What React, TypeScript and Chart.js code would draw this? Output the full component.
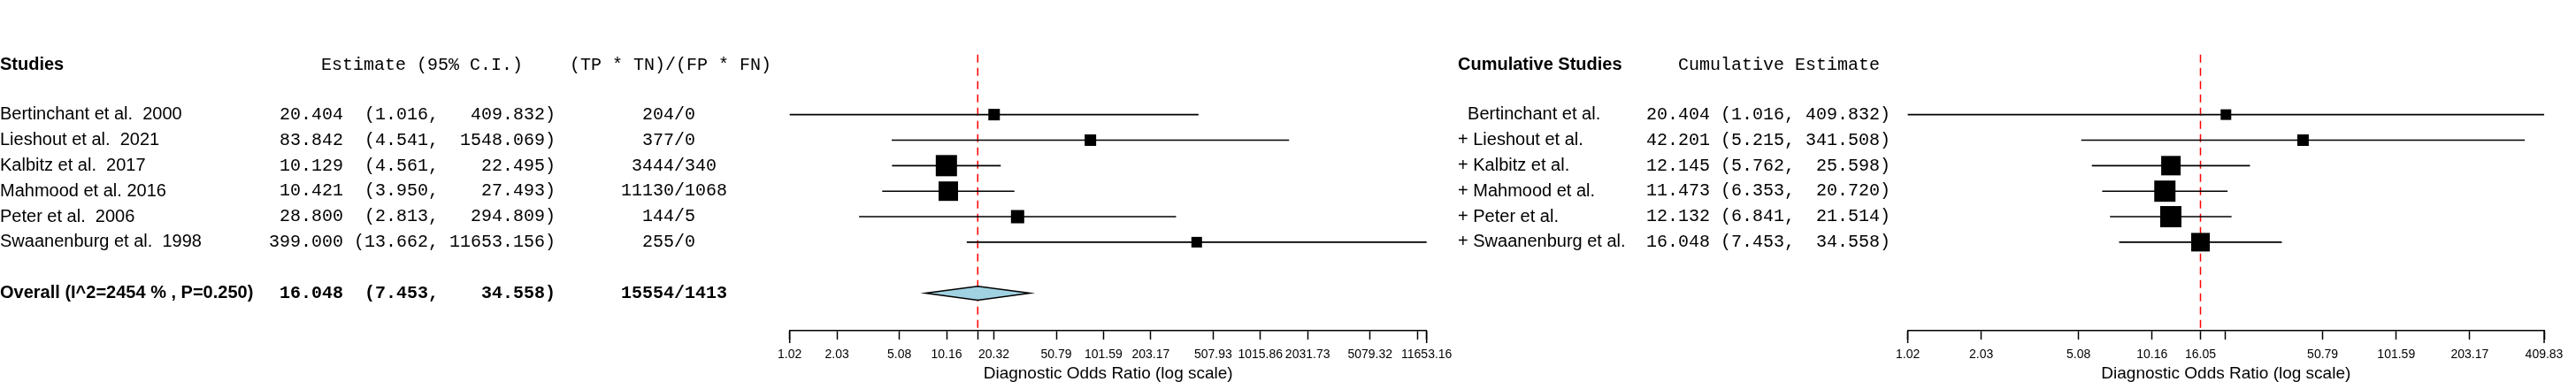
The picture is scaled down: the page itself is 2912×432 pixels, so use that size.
import React, { useEffect, useRef } from "react";
import { Chart, registerables } from "chart.js";

Chart.register(...registerables);

// ---------------- data ----------------
const studyNames = [
  "Bertinchant et al.  2000",
  "Lieshout et al.  2021",
  "Kalbitz et al.  2017",
  "Mahmood et al. 2016",
  "Peter et al.  2006",
  "Swaanenburg et al.  1998",
];
const estimates = [20.404, 83.842, 10.129, 10.421, 28.8, 399.0];
const lowerCI = [1.016, 4.541, 4.561, 3.95, 2.813, 13.662];
const upperCI = [409.832, 1548.069, 22.495, 27.493, 294.809, 11653.156];
const tpTn = [204, 377, 3444, 11130, 144, 255];
const fpFn = [0, 0, 340, 1068, 5, 0];

const overallLabel = "Overall (I^2=2454 % , P=0.250)";
const overallEstimate = 16.048;
const overallLower = 7.453;
const overallUpper = 34.558;
const overallTpTn = 15554;
const overallFpFn = 1413;

const cumNames = [
  "  Bertinchant et al.",
  "+ Lieshout et al.",
  "+ Kalbitz et al.",
  "+ Mahmood et al.",
  "+ Peter et al.",
  "+ Swaanenburg et al.",
];
const cumEstimates = [20.404, 42.201, 12.145, 11.473, 12.132, 16.048];
const cumLower = [1.016, 5.215, 5.762, 6.353, 6.841, 7.453];
const cumUpper = [409.832, 341.508, 25.598, 20.72, 21.514, 34.558];

const leftTicks = [1.016, 2.032, 5.08, 10.16, 16.048, 20.32, 50.79, 101.59, 203.17, 507.93, 1015.86, 2031.73, 5079.32, 10158.65, 11653.156];
const leftTickLabels = ["1.02", "2.03", "5.08", "10.16", "", "20.32", "50.79", "101.59", "203.17", "507.93", "1015.86", "2031.73", "5079.32", "", "11653.16"];
const rightTicks = [1.016, 2.032, 5.08, 10.16, 16.048, 20.32, 50.79, 101.59, 203.17, 409.832];
const rightTickLabels = ["1.02", "2.03", "5.08", "10.16", "16.05", "", "50.79", "101.59", "203.17", "409.83"];

const axisTitle = "Diagnostic Odds Ratio (log scale)";

// ---------------- style ----------------
const SANS = '"Liberation Sans", Arial, sans-serif';
const MONO = '"Liberation Mono", "Courier New", monospace';
const leftBoxSides = [13, 13, 24, 22, 15, 12];
const rightBoxSides = [12, 13, 22, 24, 24, 21];
const ROW_MIN = -2.5;
const ROW_MAX = 8.47;
const HEADER_ROW = -1.95;
const OVERALL_ROW = 7;
const REF_TOP = -2.35;
const DIAMOND_HALF = 0.27;
const TICK_LEN = 10;
const END_TICK_LEN = 14;

const f3 = (v: number) => v.toFixed(3);
const leftCIText = (e: number, lo: number, hi: number) =>
  f3(e).padStart(7) + " " + ("(" + f3(lo) + ",").padStart(8) + " " + (f3(hi) + ")").padStart(10);
const rightCIText = (e: number, lo: number, hi: number) =>
  f3(e).padStart(6) + " " + ("(" + f3(lo) + ",").padStart(7) + " " + (f3(hi) + ")").padStart(8);
const ratioText = (n: number, d: number) => String(n).padStart(5) + "/" + String(d).padEnd(4);

type Panel = {
  canvasLeft: number;
  canvasWidth: number;
  areaLeft: number;
  areaRight: number;
  min: number;
  max: number;
  ticks: number[];
  tickLabels: string[];
  est: number[];
  lo: number[];
  hi: number[];
  sides: number[];
  ref: number;
  diamond: boolean;
  drawText: (ctx: CanvasRenderingContext2D, yPix: (r: number) => number) => void;
};

function buildChart(canvas: HTMLCanvasElement, p: Panel) {
  const datasets: any[] = [];
  datasets.push({
    type: "line",
    data: [
      { x: p.ref, y: REF_TOP },
      { x: p.ref, y: ROW_MAX },
    ],
    borderColor: "#ff0000",
    borderWidth: 1.5,
    borderDash: [9, 6],
    pointRadius: 0,
    clip: false,
    order: 10,
  });
  p.lo.forEach((lo, i) => {
    datasets.push({
      type: "line",
      data: [
        { x: lo, y: i },
        { x: p.hi[i], y: i },
      ],
      borderColor: "#000",
      borderWidth: 1.6,
      pointRadius: 0,
      clip: false,
      order: 5,
    });
  });
  datasets.push({
    type: "scatter",
    data: p.est.map((e, i) => ({ x: e, y: i })),
    pointStyle: "rect",
    pointRadius: p.sides.map((s) => s / Math.SQRT2),
    pointHoverRadius: p.sides.map((s) => s / Math.SQRT2),
    backgroundColor: "#000",
    borderColor: "#000",
    borderWidth: 0,
    clip: false,
    order: 0,
  });

  const overlay = {
    id: "overlay" + p.canvasLeft,
    afterDraw(chart: any) {
      const ctx = chart.ctx as CanvasRenderingContext2D;
      const xs = chart.scales.x;
      const ys = chart.scales.y;
      // longer end ticks of the axis
      ctx.save();
      ctx.strokeStyle = "#000";
      ctx.lineWidth = 1.5;
      [p.min, p.max].forEach((v) => {
        const px = xs.getPixelForValue(v);
        ctx.beginPath();
        ctx.moveTo(px, xs.top);
        ctx.lineTo(px, xs.top + END_TICK_LEN);
        ctx.stroke();
      });
      ctx.restore();
      if (p.diamond) {
        const yc = ys.getPixelForValue(OVERALL_ROW);
        const yt = ys.getPixelForValue(OVERALL_ROW - DIAMOND_HALF);
        const yb = ys.getPixelForValue(OVERALL_ROW + DIAMOND_HALF);
        ctx.save();
        ctx.beginPath();
        ctx.moveTo(xs.getPixelForValue(overallLower), yc);
        ctx.lineTo(xs.getPixelForValue(overallEstimate), yt);
        ctx.lineTo(xs.getPixelForValue(overallUpper), yc);
        ctx.lineTo(xs.getPixelForValue(overallEstimate), yb);
        ctx.closePath();
        ctx.fillStyle = "#a0d2e2";
        ctx.fill();
        ctx.lineWidth = 1.5;
        ctx.strokeStyle = "#000";
        ctx.stroke();
        ctx.restore();
      }
      ctx.save();
      ctx.fillStyle = "#000";
      ctx.textBaseline = "middle";
      ctx.textAlign = "left";
      p.drawText(ctx, (r: number) => ys.getPixelForValue(r));
      ctx.restore();
    },
  };

  return new Chart(canvas, {
    type: "scatter",
    data: { datasets },
    plugins: [overlay],
    options: {
      responsive: false,
      animation: false,
      events: [],
      layout: {
        padding: { left: p.areaLeft, right: p.canvasWidth - p.areaRight, top: 57.5, bottom: 0 },
      },
      plugins: { legend: { display: false }, tooltip: { enabled: false } },
      scales: {
        x: {
          type: "logarithmic",
          position: "bottom",
          min: p.min,
          max: p.max,
          bounds: "data",
          offset: false,
          afterBuildTicks: (s: any) => {
            s.ticks = p.ticks.map((v) => ({ value: v }));
          },
          afterFit: (s: any) => {
            s.height = 58;
          },
          ticks: {
            autoSkip: false,
            maxRotation: 0,
            minRotation: 0,
            padding: 9,
            color: "#000",
            font: { family: SANS, size: 14 },
            callback: (_v: any, i: number) => p.tickLabels[i],
          },
          grid: {
            display: true,
            drawOnChartArea: false,
            drawTicks: true,
            tickLength: TICK_LEN,
            tickColor: "#000",
            tickWidth: 1.5,
            color: "#000",
          },
          border: { display: true, color: "#000", width: 1.5 },
          title: {
            display: true,
            text: axisTitle,
            color: "#000",
            font: { family: SANS, size: 19, lineHeight: 1 },
            padding: { top: 0, bottom: 0 },
          },
        } as any,
        y: { type: "linear", reverse: true, min: ROW_MIN, max: ROW_MAX, display: false },
      },
    } as any,
  });
}

const leftPanel: Panel = {
  canvasLeft: 0,
  canvasWidth: 1660,
  areaLeft: 892.7,
  areaRight: 1612.7,
  min: 1.016,
  max: 11653.156,
  ticks: leftTicks,
  tickLabels: leftTickLabels,
  est: estimates,
  lo: lowerCI,
  hi: upperCI,
  sides: leftBoxSides,
  ref: overallEstimate,
  diamond: true,
  drawText: (ctx, yPix) => {
    ctx.font = `bold 20px ${SANS}`;
    ctx.fillText("Studies", 0, yPix(HEADER_ROW));
    ctx.font = `20px ${MONO}`;
    ctx.fillText("Estimate (95% C.I.)", 363, yPix(HEADER_ROW));
    ctx.fillText("(TP * TN)/(FP * FN)", 644, yPix(HEADER_ROW));
    studyNames.forEach((name, i) => {
      ctx.font = `20px ${SANS}`;
      ctx.fillText(name, 0, yPix(i));
      ctx.font = `20px ${MONO}`;
      ctx.fillText(leftCIText(estimates[i], lowerCI[i], upperCI[i]), 304, yPix(i));
      ctx.fillText(ratioText(tpTn[i], fpFn[i]), 702, yPix(i));
    });
    ctx.font = `bold 20px ${SANS}`;
    ctx.fillText(overallLabel, 0, yPix(OVERALL_ROW));
    ctx.font = `bold 20px ${MONO}`;
    ctx.fillText(leftCIText(overallEstimate, overallLower, overallUpper), 304, yPix(OVERALL_ROW));
    ctx.fillText(ratioText(overallTpTn, overallFpFn), 702, yPix(OVERALL_ROW));
  },
};

const rightPanel: Panel = {
  canvasLeft: 1640,
  canvasWidth: 1272,
  areaLeft: 516.6,
  areaRight: 1236,
  min: 1.016,
  max: 409.832,
  ticks: rightTicks,
  tickLabels: rightTickLabels,
  est: cumEstimates,
  lo: cumLower,
  hi: cumUpper,
  sides: rightBoxSides,
  ref: overallEstimate,
  diamond: false,
  drawText: (ctx, yPix) => {
    ctx.font = `bold 20px ${SANS}`;
    ctx.fillText("Cumulative Studies", 8, yPix(HEADER_ROW));
    ctx.font = `20px ${MONO}`;
    ctx.fillText("Cumulative Estimate", 257, yPix(HEADER_ROW));
    cumNames.forEach((name, i) => {
      ctx.font = `20px ${SANS}`;
      ctx.fillText(name, 8, yPix(i));
      ctx.font = `20px ${MONO}`;
      ctx.fillText(rightCIText(cumEstimates[i], cumLower[i], cumUpper[i]), 221, yPix(i));
    });
  },
};

function PanelCanvas({ panel }: { panel: Panel }) {
  const ref = useRef<HTMLCanvasElement | null>(null);
  useEffect(() => {
    if (!ref.current) return;
    const chart = buildChart(ref.current, panel);
    return () => chart.destroy();
  }, [panel]);
  return (
    <canvas
      ref={ref}
      width={panel.canvasWidth}
      height={432}
      style={{
        position: "absolute",
        left: panel.canvasLeft,
        top: 0,
        width: panel.canvasWidth,
        height: 432,
      }}
    />
  );
}

export default function App() {
  return (
    <div
      style={{
        position: "fixed",
        left: 0,
        top: 0,
        width: 2912,
        height: 432,
        background: "#fff",
        overflow: "hidden",
      }}
    >
      <PanelCanvas panel={leftPanel} />
      <PanelCanvas panel={rightPanel} />
    </div>
  );
}
